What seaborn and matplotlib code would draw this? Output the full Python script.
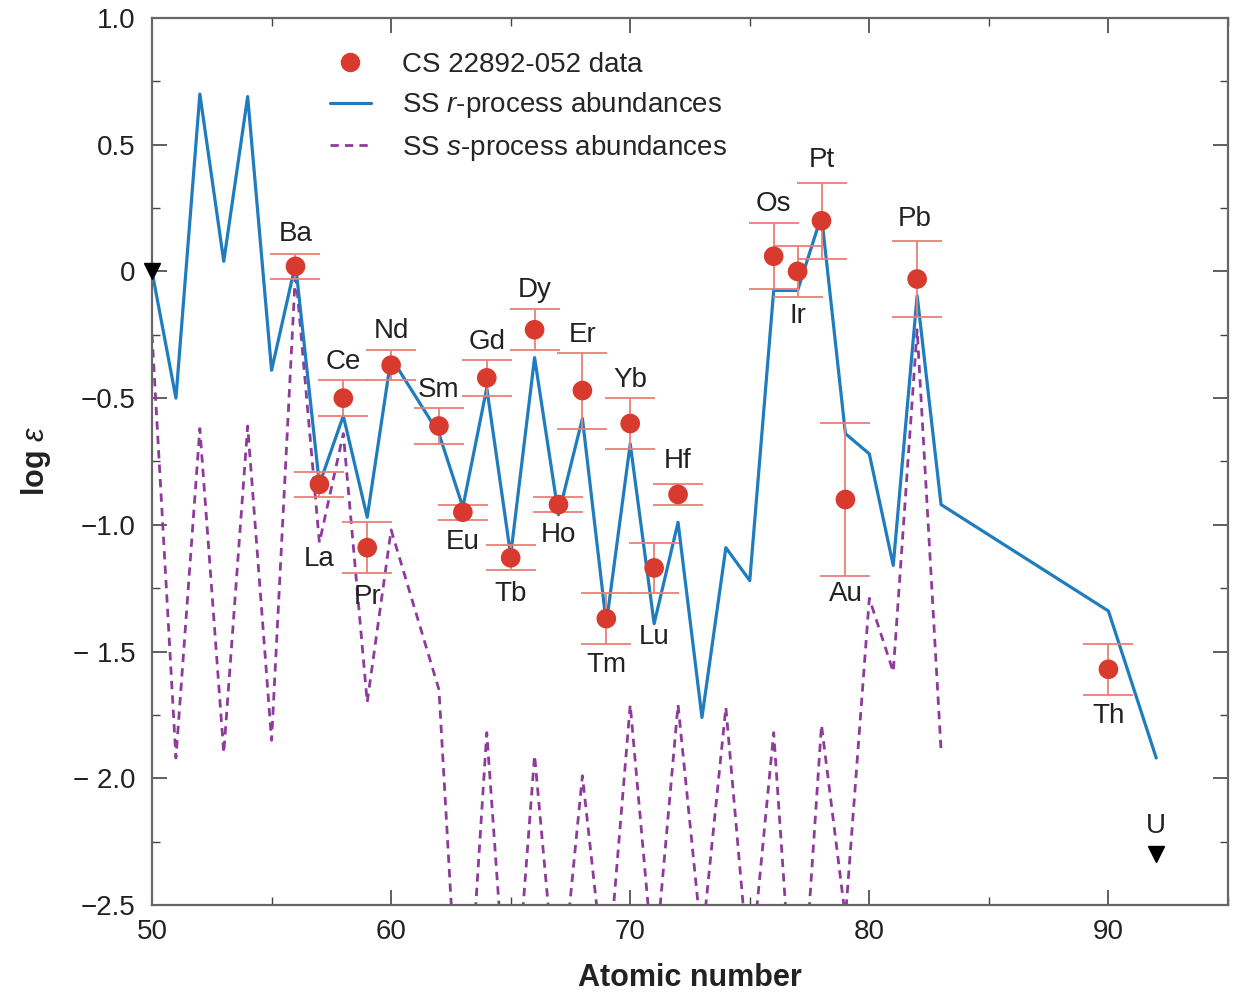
import numpy as np
import pandas as pd
import matplotlib
matplotlib.use("Agg")
import matplotlib.pyplot as plt
import seaborn as sns
from matplotlib.lines import Line2D
from matplotlib.ticker import MultipleLocator, FixedLocator

# --- dados ---
# SS r-process (Z=61 ausente, 84-89 ausentes)
r_z = [50, 51, 52, 53, 54, 55, 56, 57, 58, 59, 60, 62, 63, 64, 65, 66, 67, 68,
       69, 70, 71, 72, 73, 74, 75, 76, 77, 78, 79, 80, 81, 82, 83, 90, 92]
r_vals = [0.0, -0.50, 0.70, 0.04, 0.69, -0.39, 0.03, -0.84, -0.57, -0.97, -0.34,
          -0.64, -0.93, -0.46, -1.12, -0.34, -0.96, -0.58, -1.39, -0.68, -1.39,
          -0.99, -1.76, -1.09, -1.22, -0.075, -0.075, 0.22, -0.64, -0.72, -1.16,
          -0.095, -0.92, -1.34, -1.92]

# SS s-process
s_z = [50, 51, 52, 53, 54, 55, 56, 57, 58, 59, 60, 62, 63, 64, 65, 66, 67, 68,
       69, 70, 71, 72, 73, 74, 75, 76, 77, 78, 79, 80, 81, 82, 83]
s_vals = [-0.25, -1.92, -0.62, -1.90, -0.61, -1.85, 0.0, -1.07, -0.64, -1.70, -1.02,
          -1.65, -3.30, -1.82, -3.15, -1.91, -2.95, -1.99, -2.85, -1.71, -2.77,
          -1.71, -2.65, -1.72, -2.80, -1.82, -3.20, -1.79, -2.55, -1.29, -1.58,
          -0.23, -1.89]

# CS 22892-052
obs_names = ["Ba", "La", "Ce", "Pr", "Nd", "Sm", "Eu", "Gd", "Tb", "Dy", "Ho",
             "Er", "Tm", "Yb", "Lu", "Hf", "Os", "Ir", "Pt", "Au", "Pb", "Th"]
obs_z = [56, 57, 58, 59, 60, 62, 63, 64, 65, 66, 67, 68, 69, 70, 71, 72, 76, 77,
         78, 79, 82, 90]
obs_vals = [0.02, -0.84, -0.50, -1.09, -0.37, -0.61, -0.95, -0.42, -1.13, -0.23,
            -0.92, -0.47, -1.37, -0.60, -1.17, -0.88, 0.06, 0.00, 0.20, -0.90,
            -0.03, -1.57]
obs_err = [0.05, 0.05, 0.07, 0.10, 0.06, 0.07, 0.03, 0.07, 0.05, 0.08, 0.03,
           0.15, 0.10, 0.10, 0.10, 0.04, 0.13, 0.10, 0.15, 0.30, 0.15, 0.10]

# limites superiores
lim_names = ["", "U"]
lim_z = [50, 92]
lim_vals = [0.0, -2.30]

# posição dos rótulos dos elementos
label_y = [0.146, -1.133, -0.359, -1.283, -0.237, -0.466, -1.069, -0.280, -1.271,
           -0.075, -1.042, -0.249, -1.555, -0.430, -1.444, -0.750, 0.268, -0.174,
           0.438, -1.271, 0.205, -1.756]
label_x = [56, 57, 58, 59, 60, 62, 63, 64, 65, 66, 67, 68, 69, 70, 71, 72, 76, 77,
           78, 79, 81.9, 90]
y_ticks = [-2.5, -2.0, -1.5, -1.0, -0.5, 0.0, 0.5, 1.0]
y_ticklabels = ["−2.5", "− 2.0", "− 1.5", "−1.0", "−0.5", "0", "0.5", "1.0"]

# --- cores ---
BLUE = "#1f7dbf"
PURPLE = "#8e3b9b"
RED = "#d93a2e"
ERR_RED = "#ea7f77"
TXT = "#222222"

sns.set_theme(style="ticks")
plt.rcParams["font.family"] = ["Liberation Sans", "DejaVu Sans"]
plt.rcParams["mathtext.fontset"] = "custom"
plt.rcParams["mathtext.it"] = "Liberation Sans:italic"
plt.rcParams["mathtext.rm"] = "Liberation Sans"

df_r = pd.DataFrame({"Z": r_z, "v": r_vals})
df_s = pd.DataFrame({"Z": s_z, "v": s_vals})
df_obs = pd.DataFrame({"Z": obs_z, "v": obs_vals, "err": obs_err, "nome": obs_names})

fig = plt.figure(figsize=(12.37, 9.96), dpi=100)
ax = fig.add_axes([0.1229, 0.0914, 0.8698, 0.8905])

sns.lineplot(data=df_s, x="Z", y="v", ax=ax, color=PURPLE, linewidth=2.0,
             linestyle=(0, (3, 2.2)), sort=False, estimator=None)
sns.lineplot(data=df_r, x="Z", y="v", ax=ax, color=BLUE, linewidth=2.3,
             sort=False, estimator=None)

ax.errorbar(df_obs["Z"], df_obs["v"], yerr=df_obs["err"], fmt="none",
            ecolor=ERR_RED, elinewidth=1.3, capsize=18, capthick=1.3, zorder=3)
sns.scatterplot(data=df_obs, x="Z", y="v", ax=ax, color=RED, s=200,
                edgecolor="none", zorder=4)

ax.plot(lim_z, lim_vals, linestyle="none", marker="v", color="black",
        markersize=11, clip_on=False, zorder=5)

for nome, lx, ly in zip(obs_names, label_x, label_y):
    ax.text(lx, ly, nome, ha="center", va="center", fontsize=20, color=TXT)
ax.text(lim_z[1], -2.19, lim_names[1], ha="center", va="center", fontsize=20,
        color=TXT)

ax.set_xlim(50, 95)
ax.set_ylim(-2.5, 1.0)
ax.xaxis.set_major_locator(FixedLocator([50, 60, 70, 80, 90]))
ax.xaxis.set_minor_locator(MultipleLocator(5))
ax.set_yticks(y_ticks)
ax.set_yticklabels(y_ticklabels)
ax.yaxis.set_minor_locator(MultipleLocator(0.25))
ax.tick_params(which="both", direction="in", top=True, right=True,
               color="#444444", labelsize=20, labelcolor=TXT)
ax.tick_params(which="major", length=11, width=1.2)
ax.tick_params(axis="y", which="major", pad=12)
ax.tick_params(axis="x", which="major", pad=10)
ax.tick_params(which="minor", length=6, width=1.0)
for sp in ax.spines.values():
    sp.set_color("#666666")
    sp.set_linewidth(1.6)

ax.set_xlabel("Atomic number", fontsize=22, fontweight="bold", labelpad=13,
              color=TXT)
ax.set_ylabel("log $\\it{ε}$", fontsize=22, fontweight="bold", labelpad=14,
              color=TXT)

handles = [
    Line2D([], [], linestyle="none", marker="o", color=RED, markersize=13),
    Line2D([], [], color=BLUE, linewidth=2.3),
    Line2D([], [], color=PURPLE, linewidth=2.0, linestyle=(0, (3, 2.2))),
]
labels = ["CS 22892-052 data", "SS $\\it{r}$-process abundances",
          "SS $\\it{s}$-process abundances"]
ax.legend(handles, labels, loc="upper left", bbox_to_anchor=(0.165, 0.962),
          frameon=False, fontsize=20, handlelength=1.5, handletextpad=1.1,
          labelspacing=0.45, borderpad=0, borderaxespad=0)

fig.savefig("out.png", dpi=100)
